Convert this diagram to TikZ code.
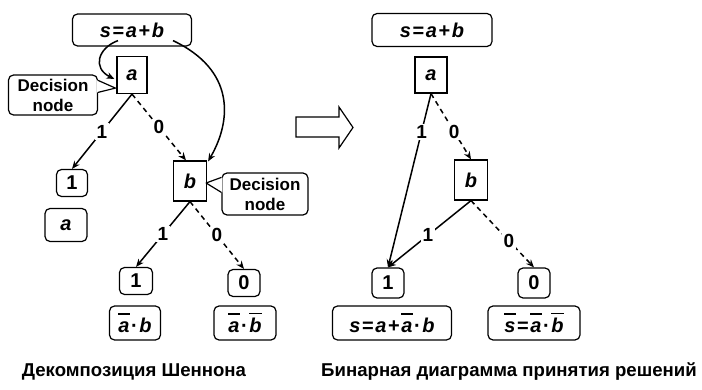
\documentclass[tikz,border=0pt]{standalone}
\usepackage{fontspec}
\setmainfont{Liberation Sans}
\usetikzlibrary{arrows.meta,calc}
\newcommand{\vv}[1]{\textit{#1}}
\newcommand{\ov}[1]{\leavevmode\vbox{\hrule height 1.6pt\kern 4pt\hbox{\vrule height 0.72em width 0pt\itshape #1}}}
\newcommand{\gp}{\hspace{0.08em}}
\begin{document}
\begin{tikzpicture}[x=1pt,y=-1pt,
  font=\bfseries\fontsize{20}{22}\selectfont,
  rb/.style={draw,line width=1.2pt,rounded corners=5pt,inner sep=0pt,align=center},
  sq/.style={draw,line width=1.2pt,inner sep=0pt},
  callbox/.style={rb,font=\bfseries\fontsize{17}{20}\selectfont},
  edge1/.style={line width=1.5pt,-{Stealth[length=8pt,width=6.5pt]}},
  edge0/.style={edge1,dash pattern=on 5pt off 4pt},
  lab/.style={fill=white,inner sep=1.5pt,font=\bfseries\fontsize{19}{21}\selectfont},
  captxt/.style={font=\bfseries\fontsize{18.6}{22}\selectfont},
  ptr/.style={line width=1.2pt,line join=round}]
\useasboundingbox (0,0) rectangle (702,390);

% ---------- left: Shannon decomposition ----------
\node[rb,minimum width=119pt,minimum height=32pt] (sL) at (132,30) {\vv{s}\gp=\gp\vv{a}\gp+\gp\vv{b}};
\node[sq,minimum width=30pt,minimum height=37pt] (aL) at (132,75) {\vv{a}};
\node[callbox,minimum width=89pt,minimum height=40pt] (d1) at (53,95) {Decision\\node};
\node[rb,minimum width=31pt,minimum height=27pt] (oneL1) at (72,183) {1};
\node[rb,minimum width=42pt,minimum height=33pt] (aLeaf) at (66,225) {\vv{a}};
\node[sq,minimum width=33pt,minimum height=40pt] (bL) at (190,181) {\vv{b}};
\node[callbox,minimum width=86pt,minimum height=42pt] (d2) at (265,194) {Decision\\node};
\node[rb,minimum width=33pt,minimum height=27pt] (oneL2) at (136,281) {1};
\node[rb,minimum width=32pt,minimum height=27pt] (zeroL2) at (244,283) {0};
\node[rb,minimum width=51pt,minimum height=34pt] (leafL1) at (135,323) {\ov{a}\gp·\gp\vv{b}};
\node[rb,minimum width=62pt,minimum height=34pt] (leafL2) at (245,323) {\ov{a}\gp·\gp\ov{b}};

% callout pointers
\fill[white] ($(d1.north east)+(-0.9,6)$) -- ($(aL.south west)+(-1,-6)$) -- ($(d1.north east)+(-0.9,18)$) -- cycle;
\draw[ptr] ($(d1.north east)+(0,6)$) -- ($(aL.south west)+(-1,-6)$) -- ($(d1.north east)+(0,18)$);
\fill[white] ($(d2.north west)+(0.9,5)$) -- ($(bL.east)+(-1,2)$) -- ($(d2.north west)+(0.9,20)$) -- cycle;
\draw[ptr] ($(d2.north west)+(0,5)$) -- ($(bL.east)+(-1,2)$) -- ($(d2.north west)+(0,20)$);

% connectors
\draw[edge1] ($(sL.south)+(-14,-6)$) .. controls (98,48) and (92,68) .. ($(aL.west)+(-2,4)$);
\draw[edge1] ($(sL.south)+(41,-6)$) .. controls (235,70) and (232,120) .. ($(bL.north east)+(1,1)$);
\draw[edge1] (aL.south) -- node[lab]{1} (oneL1.north);
\draw[edge0] (aL.south) -- node[lab]{0} ($(bL.north)+(-4,0)$);
\draw[edge1] (bL.south) -- node[lab]{1} (oneL2.north);
\draw[edge0] (bL.south) -- node[lab]{0} (zeroL2.north);

% ---------- middle arrow ----------
\draw[line width=1.2pt,line join=miter] (296,117) -- (339,117) -- (339,107) -- (353,127.5) -- (339,148) -- (339,137) -- (296,137) -- cycle;

% ---------- right: BDD ----------
\node[rb,minimum width=120pt,minimum height=33pt] (sR) at (432,30) {\vv{s}\gp=\gp\vv{a}\gp+\gp\vv{b}};
\node[sq,minimum width=32pt,minimum height=36pt] (aR) at (431,75) {\vv{a}};
\node[sq,minimum width=33pt,minimum height=40pt] (bR) at (471,180) {\vv{b}};
\node[rb,minimum width=32pt,minimum height=30pt] (oneR) at (388,283) {1};
\node[rb,minimum width=32pt,minimum height=30pt] (zeroR) at (534,283) {0};
\node[rb,minimum width=119pt,minimum height=34pt] (leafR1) at (392,323) {\vv{s}\gp=\gp\vv{a}\gp+\gp\ov{a}\gp·\gp\vv{b}};
\node[rb,minimum width=92pt,minimum height=34pt] (leafR2) at (534,323) {\ov{s}\gp=\gp\ov{a}\gp·\gp\ov{b}};

\draw[edge1] (aR.south) -- node[lab,pos=0.22]{1} (oneR.north);
\draw[edge0] (aR.south) -- node[lab,pos=0.58]{0} (bR.north);
\draw[edge1] (bR.south) -- node[lab,pos=0.52]{1} (oneR.north);
\draw[edge0] (bR.south) -- node[lab,pos=0.6]{0} (zeroR.north);

% captions
\node[captxt] (capL) at (134,372) {Декомпозиция Шеннона};
\node[captxt] (capR) at (509,372) {Бинарная диаграмма принятия решений};
\end{tikzpicture}
\end{document}
